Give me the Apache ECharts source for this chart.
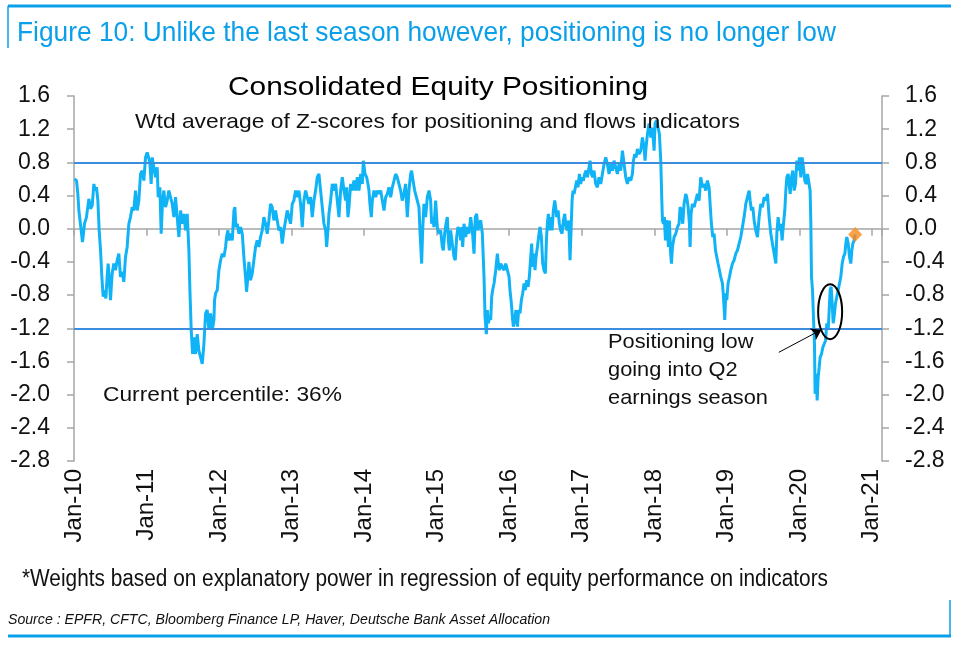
<!DOCTYPE html>
<html>
<head>
<meta charset="utf-8">
<script src="https://cdn.jsdelivr.net/npm/echarts@6/dist/echarts.min.js"></script>
<style>
html,body{margin:0;padding:0;background:#fff;}
#c{width:960px;height:652px;}
</style>
</head>
<body>
<div id="c"></div>
<script>
// ---- data (decimal years, z-score values) ----
const dates = [
2010.007,2010.035,2010.053,2010.067,2010.099,2010.117,2010.145,2010.172,2010.205,2010.228,2010.251,2010.274,2010.292,2010.310,2010.329,2010.347,2010.366,2010.384,2010.402,2010.421,2010.439,2010.457,2010.471,2010.490,2010.503,2010.526,2010.549,2010.572,2010.595,2010.618,2010.641,2010.664,2010.687,2010.710,2010.733,2010.756,2010.779,2010.802,2010.825,2010.848,2010.871,2010.894,2010.917,2010.940,2010.963,2010.986,2011.009,2011.032,2011.046,2011.064,2011.078,2011.101,2011.124,2011.147,2011.161,2011.184,2011.202,2011.221,2011.239,2011.262,2011.285,2011.308,2011.331,2011.354,2011.377,2011.400,2011.423,2011.446,2011.469,2011.492,2011.515,2011.538,2011.561,2011.584,2011.598,2011.616,2011.635,2011.653,2011.676,2011.699,2011.722,2011.745,
2011.768,2011.791,2011.814,2011.837,2011.860,2011.883,2011.906,2011.929,2011.938,2011.952,2011.975,2011.998,2012.021,2012.044,2012.067,2012.090,2012.103,2012.122,2012.136,2012.159,2012.182,2012.205,2012.218,2012.232,2012.251,2012.274,2012.297,2012.320,2012.342,2012.365,2012.379,2012.398,2012.411,2012.434,2012.457,2012.480,2012.503,2012.526,2012.549,2012.572,2012.595,2012.618,2012.641,2012.664,2012.687,2012.710,2012.733,2012.756,2012.779,2012.802,2012.825,2012.848,2012.871,2012.894,2012.917,2012.940,2012.963,2012.986,2013.009,2013.032,2013.055,2013.078,2013.101,2013.124,2013.147,2013.170,2013.193,2013.216,2013.239,2013.262,2013.285,2013.308,2013.331,2013.354,2013.377,2013.400,2013.423,2013.446,2013.469,2013.483,2013.501,2013.515,2013.538,2013.561,2013.584,2013.607,2013.630,2013.653,2013.676,
2013.699,2013.722,2013.745,2013.759,2013.777,2013.791,2013.814,2013.837,2013.860,2013.883,2013.906,2013.929,2013.952,2013.975,2013.989,2013.998,2014.012,2014.035,2014.053,2014.067,2014.080,2014.099,2014.113,2014.136,2014.159,2014.182,2014.205,2014.228,2014.251,2014.274,2014.297,2014.320,2014.343,2014.366,2014.389,2014.412,2014.434,2014.457,2014.480,2014.503,2014.526,2014.549,2014.572,2014.595,2014.618,2014.641,2014.655,2014.674,2014.697,2014.715,2014.733,2014.756,2014.770,2014.779,2014.793,2014.807,2014.825,2014.848,2014.871,2014.894,2014.917,2014.931,2014.945,2014.963,2014.986,2015.009,2015.032,2015.055,2015.078,2015.092,2015.110,2015.129,2015.147,2015.161,2015.175,2015.193,2015.216,2015.239,2015.257,2015.276,2015.294,2015.313,2015.331,2015.345,2015.359,2015.377,2015.400,2015.423,2015.446,2015.469,2015.492,2015.515,2015.533,2015.552,2015.570,2015.588,2015.607,2015.630,
2015.653,2015.667,2015.685,2015.699,2015.713,2015.731,2015.745,2015.759,2015.772,2015.791,2015.814,2015.837,2015.851,2015.864,2015.883,2015.906,2015.929,2015.952,2015.975,2015.998,2016.011,2016.030,2016.044,2016.057,2016.076,2016.094,2016.113,2016.131,2016.149,2016.168,2016.186,2016.205,2016.223,2016.241,2016.260,2016.278,2016.297,2016.310,2016.324,2016.343,2016.356,2016.370,2016.389,2016.411,2016.425,2016.444,2016.462,2016.480,2016.499,2016.513,2016.526,2016.540,2016.554,2016.572,2016.591,2016.609,2016.628,2016.641,2016.655,2016.674,2016.692,2016.710,2016.729,2016.747,2016.766,2016.784,2016.802,2016.821,2016.839,2016.853,2016.867,2016.880,2016.894,2016.913,2016.931,2016.949,2016.968,2016.986,2017.005,2017.023,2017.041,2017.060,2017.078,2017.101,2017.115,2017.133,2017.152,2017.170,2017.193,2017.216,2017.239,2017.262,2017.285,2017.308,2017.331,2017.354,2017.377,2017.400,2017.423,2017.446,2017.469,2017.492,2017.515,2017.538,2017.561,2017.584,2017.607,2017.630,2017.653,
2017.676,2017.699,2017.713,2017.731,2017.749,2017.768,2017.791,2017.814,2017.837,2017.860,2017.873,2017.887,2017.906,2017.929,2017.952,2017.975,2017.998,2018.011,2018.034,2018.053,2018.071,2018.090,2018.103,2018.113,2018.126,2018.140,2018.154,2018.168,2018.182,2018.195,2018.209,2018.223,2018.237,2018.251,2018.274,2018.297,2018.320,2018.342,2018.356,2018.375,2018.393,2018.411,2018.434,2018.448,2018.467,2018.485,2018.494,2018.508,2018.526,2018.549,2018.572,2018.595,2018.618,2018.641,2018.664,2018.687,2018.710,2018.733,2018.756,2018.770,2018.788,2018.807,2018.825,2018.844,2018.862,2018.880,2018.899,2018.917,2018.940,2018.954,2018.972,2018.986,2019.000,2019.018,2019.037,2019.055,2019.078,2019.101,2019.124,2019.147,2019.170,2019.193,2019.216,2019.239,2019.262,2019.285,2019.308,2019.322,2019.340,2019.359,2019.377,2019.400,2019.423,2019.446,2019.469,
2019.492,2019.515,2019.538,2019.561,2019.584,2019.607,2019.630,2019.653,2019.676,2019.690,2019.708,2019.726,2019.745,2019.763,2019.782,2019.800,2019.814,2019.828,2019.846,2019.860,2019.874,2019.892,2019.910,2019.929,2019.947,2019.966,2019.984,2020.002,2020.021,2020.039,2020.057,2020.076,2020.094,2020.113,2020.136,2020.149,2020.159,2020.168,2020.182,2020.195,2020.209,2020.218,2020.232,2020.246,2020.260,2020.274,2020.287,2020.306,2020.324,2020.343,2020.361,2020.379,2020.398,2020.412,2020.425,2020.439,2020.453,2020.467,2020.480,2020.499,2020.517,2020.536,2020.554,2020.572,2020.591,2020.609,2020.628,2020.641,2020.655,2020.674,2020.692,2020.710,2020.724,2020.738,2020.756,2020.770
];
const zScores = [
0.60,0.58,0.42,0.22,-0.02,-0.16,0.06,0.14,0.36,0.24,0.28,0.54,0.46,0.50,0.34,-0.02,-0.26,-0.58,-0.82,-0.74,-0.84,-0.58,-0.42,-0.66,-0.86,-0.54,-0.42,-0.50,-0.38,-0.30,-0.58,-0.52,-0.64,-0.34,-0.22,0.06,0.14,0.26,0.22,0.46,0.22,0.34,0.66,0.70,0.58,0.86,0.92,0.94,0.80,0.54,0.86,0.74,0.62,0.74,0.38,0.50,-0.06,0.34,0.46,0.26,0.34,0.46,0.46,0.30,0.14,0.38,0.14,-0.10,0.22,0.06,0.18,-0.02,0.18,-0.26,-0.74,-1.22,-1.51,-1.31,-1.51,-1.27,-1.47,-1.55,
-1.63,-1.39,-1.02,-0.98,-1.22,-1.02,-1.22,-1.10,-0.86,-0.78,-0.74,-0.50,-0.38,-0.30,-0.34,-0.22,-0.10,-0.02,-0.14,-0.06,-0.14,0.22,0.26,0.02,0.06,-0.06,0.02,-0.06,-0.34,-0.58,-0.76,-0.58,-0.40,-0.62,-0.54,-0.38,-0.22,-0.14,-0.22,-0.10,-0.02,0.14,0.06,-0.06,0.10,0.30,0.26,0.10,0.22,0.10,-0.02,0.02,-0.18,-0.02,0.10,0.22,0.14,0.06,0.30,0.34,0.46,0.38,0.46,0.30,0.02,0.34,0.46,0.46,0.30,0.38,0.14,0.34,0.46,0.62,0.66,0.46,0.26,0.06,-0.02,-0.22,-0.02,0.18,0.34,0.54,0.46,0.54,0.34,0.14,0.46,
0.62,0.46,0.34,0.50,0.14,0.26,0.54,0.46,0.58,0.46,0.62,0.46,0.66,0.54,0.82,0.84,0.66,0.62,0.54,0.46,0.30,0.14,0.34,0.46,0.38,0.46,0.42,0.46,0.34,0.22,0.38,0.42,0.50,0.38,0.50,0.58,0.66,0.62,0.54,0.46,0.34,0.42,0.54,0.14,0.46,0.66,0.70,0.58,0.46,0.46,0.34,0.26,-0.02,-0.18,-0.42,-0.02,0.30,0.14,0.38,0.46,0.34,0.06,0.14,0.02,0.34,0.02,-0.06,-0.02,-0.22,-0.26,-0.06,0.06,0.14,-0.14,-0.26,-0.02,-0.18,-0.34,-0.38,-0.10,0.02,-0.02,-0.14,0.02,-0.22,0.06,-0.10,0.02,-0.06,0.14,-0.02,-0.30,0.14,0.18,-0.02,0.06,0.10,-0.06,
-0.58,-1.06,-1.27,-0.98,-1.14,-1.06,-1.10,-0.82,-0.74,-0.66,-0.50,-0.30,-0.42,-0.50,-0.42,-0.42,-0.50,-0.42,-0.50,-0.58,-0.74,-0.90,-1.06,-1.18,-1.10,-0.98,-1.18,-0.98,-1.02,-0.86,-0.78,-0.66,-0.74,-0.62,-0.70,-0.58,-0.34,-0.18,-0.46,-0.30,-0.50,-0.34,-0.22,-0.06,0.02,-0.10,-0.42,-0.50,-0.54,-0.14,0.06,0.18,-0.02,0.14,-0.02,0.22,0.34,0.26,0.14,0.22,0.06,-0.02,-0.06,0.10,0.18,0.02,-0.02,0.10,-0.38,-0.02,0.34,0.46,0.42,0.50,0.58,0.50,0.66,0.54,0.62,0.58,0.66,0.70,0.62,0.74,0.82,0.66,0.62,0.70,0.54,0.50,0.62,0.54,0.66,0.78,0.86,0.78,0.66,0.78,0.70,0.82,0.74,0.66,0.78,0.70,0.94,0.78,0.62,0.54,0.62,
0.58,0.66,0.82,0.90,0.86,0.96,0.90,0.94,1.10,0.98,0.82,0.98,1.14,1.27,1.10,1.22,0.94,1.27,1.31,1.22,1.14,0.82,0.38,0.10,0.06,0.14,-0.14,0.10,0.06,-0.22,0.10,-0.26,-0.42,-0.22,-0.10,-0.06,0.02,0.06,0.26,0.22,0.06,0.30,0.42,0.38,0.26,0.06,-0.22,0.18,0.30,0.26,0.34,0.42,0.34,0.62,0.50,0.54,0.46,0.58,0.50,0.30,0.06,-0.10,-0.06,-0.26,-0.34,-0.42,-0.50,-0.58,-0.66,-0.82,-1.10,-0.78,-0.86,-0.66,-0.58,-0.50,-0.42,-0.38,-0.30,-0.26,-0.18,-0.10,0.02,0.14,0.30,0.38,0.46,0.34,0.22,0.26,0.10,-0.02,-0.10,0.14,0.30,
0.26,0.38,0.34,0.42,0.14,-0.06,-0.18,-0.30,-0.42,-0.06,0.14,-0.02,0.06,-0.14,0.06,0.22,0.46,0.62,0.66,0.54,0.42,0.62,0.70,0.46,0.54,0.82,0.70,0.86,0.62,0.86,0.74,0.58,0.54,0.66,0.66,0.46,0.06,-0.58,-0.74,-1.06,-1.39,-1.99,-1.75,-2.07,-1.79,-1.67,-1.55,-1.51,-1.43,-1.39,-1.35,-1.14,-1.22,-0.98,-0.74,-0.70,-0.90,-1.14,-1.06,-0.90,-0.82,-0.74,-0.66,-0.58,-0.42,-0.34,-0.30,-0.18,-0.10,-0.18,-0.34,-0.42,-0.26,-0.18,-0.14,-0.07
];
const yearLabels = ['Jan-10','Jan-11','Jan-12','Jan-13','Jan-14','Jan-15','Jan-16','Jan-17','Jan-18','Jan-19','Jan-20','Jan-21'];
const refLevels = [0.8, -1.2];
const latestPoint = [2020.77, -0.07];
const arrowFrom = [2019.717, -1.49];
const arrowTo = [2020.306, -1.217];
const circledCenter = [2020.425, -1.0];

// ---- styling ----
const FONT = "'Liberation Sans', Arial, Helvetica, sans-serif";
const BLUE = '#0a9fe9';
const AXIS = '#a6a6a6';

const chart = echarts.init(document.getElementById('c'), null, {renderer: 'canvas'});
const yFmt = v => (Math.abs(v) < 1e-9 ? 0 : v).toFixed(1);

const mctx = document.createElement('canvas').getContext('2d');
function fontStr(o) { return o.style + ' ' + o.weight + ' ' + o.size + 'px ' + o.family; }
function measure(text, opts) {
  const o = Object.assign({size: 20, family: FONT, weight: 'normal', style: 'normal'}, opts || {});
  mctx.font = fontStr(o);
  return mctx.measureText(text).width;
}
function txt(text, x, y, opts) {
  const o = Object.assign({size: 20, family: FONT, color: '#111', align: 'left', weight: 'normal', style: 'normal', width: null, scale: null}, opts || {});
  let sx = 1;
  if (o.scale) sx = o.scale;
  else if (o.width) sx = o.width / measure(text, o);
  return {
    type: 'text', x: x, y: y, z: 100, scaleX: sx,
    style: {
      text: text, fill: o.color, font: fontStr(o),
      align: o.align, verticalAlign: 'middle',
      textAlign: o.align, textVerticalAlign: 'middle'
    }
  };
}
function seg(x1, y1, x2, y2, w, color) {
  return {type: 'line', z: 100, shape: {x1: x1, y1: y1, x2: x2, y2: y2}, style: {stroke: color, lineWidth: w}};
}

const option = {
  animation: false,
  backgroundColor: '#fff',
  grid: {left: 74, right: 78, top: 96, bottom: 191, containLabel: false},
  xAxis: [
    {
      type: 'value', min: 2010, max: 2021.14, interval: 1, position: 'bottom',
      axisLine: {show: false, onZero: false}, axisTick: {show: false}, splitLine: {show: false},
      axisLabel: {
        rotate: 90, margin: 8, fontSize: 24, color: '#111', fontFamily: FONT,
        formatter: v => (Number.isInteger(v) && v - 2010 < yearLabels.length) ? yearLabels[v - 2010] : ''
      }
    },
    {
      type: 'value', min: 2010, max: 2021.14, interval: 1, position: 'top',
      axisLine: {show: true, onZero: true, onZeroAxisIndex: 0, lineStyle: {color: AXIS, width: 1.5}},
      axisTick: {show: true, inside: true, length: 7, lineStyle: {color: AXIS, width: 1.5}},
      axisLabel: {show: false}, splitLine: {show: false}
    }
  ],
  yAxis: [
    {
      type: 'value', min: -2.8, max: 1.6, interval: 0.4, position: 'left',
      axisLine: {show: true, onZero: false, lineStyle: {color: AXIS, width: 1.5}},
      axisTick: {show: true, length: 7, lineStyle: {color: AXIS, width: 1.5}},
      axisLabel: {margin: 24, fontSize: 23, color: '#111', fontFamily: FONT, formatter: yFmt},
      splitLine: {show: false}
    },
    {
      type: 'value', min: -2.8, max: 1.6, interval: 0.4, position: 'right',
      axisLine: {show: true, onZero: false, lineStyle: {color: AXIS, width: 1.5}},
      axisTick: {show: true, length: 7, lineStyle: {color: AXIS, width: 1.5}},
      axisLabel: {margin: 23, fontSize: 23, color: '#111', fontFamily: FONT, formatter: yFmt},
      splitLine: {show: false}
    }
  ],
  series: [
    {
      type: 'line', name: 'refs', data: [], z: 1, silent: true,
      markLine: {
        silent: true, symbol: ['none', 'none'], label: {show: false},
        lineStyle: {color: '#3b8de0', width: 2, type: 'solid'},
        data: refLevels.map(v => ({yAxis: v}))
      }
    },
    {
      type: 'line', name: 'Consolidated Equity Positioning', z: 3,
      data: dates.map((d, i) => [d, zScores[i]]),
      symbol: 'none', showSymbol: false, smooth: false,
      lineStyle: {color: '#10b3f6', width: 3}
    },
    {
      type: 'scatter', name: 'latest', z: 5,
      data: [latestPoint], symbol: 'diamond', symbolSize: [14, 15],
      itemStyle: {color: '#f98b1c'},
      markLine: {
        silent: true, symbol: ['none', 'arrow'], symbolSize: 10, label: {show: false},
        lineStyle: {color: '#000', width: 1, type: 'solid'},
        data: [[{coord: arrowFrom}, {coord: arrowTo}]]
      }
    }
  ]
};
chart.setOption(option);

const c = chart.convertToPixel({xAxisIndex: 0, yAxisIndex: 0}, circledCenter);
const annScale = 160 / measure('earnings season', {size: 21});

chart.setOption({
  graphic: [
    seg(8, 6, 951, 6, 3, BLUE),
    seg(8, 6, 8, 48, 1.5, BLUE),
    txt('Figure 10: Unlike the last season however, positioning is no longer low', 17, 33, {size: 28, color: BLUE, width: 819}),
    txt('Consolidated Equity Positioning', 438, 88, {size: 25, align: 'center', color: '#000', width: 420}),
    txt('Wtd average of Z-scores for positioning and flows indicators', 135, 122, {size: 21, width: 605}),
    txt('Current percentile: 36%', 103, 395, {size: 21, width: 239}),
    txt('Positioning low', 608, 342, {size: 21, scale: annScale}),
    txt('going into Q2', 608, 370, {size: 21, scale: annScale}),
    txt('earnings season', 608, 398, {size: 21, scale: annScale}),
    {
      type: 'ellipse', z: 100,
      shape: {cx: c[0], cy: c[1], rx: 12, ry: 27.5},
      style: {fill: 'none', stroke: '#000', lineWidth: 2}
    },
    txt('*Weights based on explanatory power in regression of equity performance on indicators', 22, 580, {size: 23, width: 806}),
    txt('Source : EPFR, CFTC, Bloomberg Finance LP, Haver, Deutsche Bank Asset Allocation', 8, 620, {size: 15, style: 'italic', width: 542}),
    seg(8, 636, 951, 636, 3, BLUE),
    seg(950, 600, 950, 636, 1.5, BLUE)
  ]
});
</script>
</body>
</html>
